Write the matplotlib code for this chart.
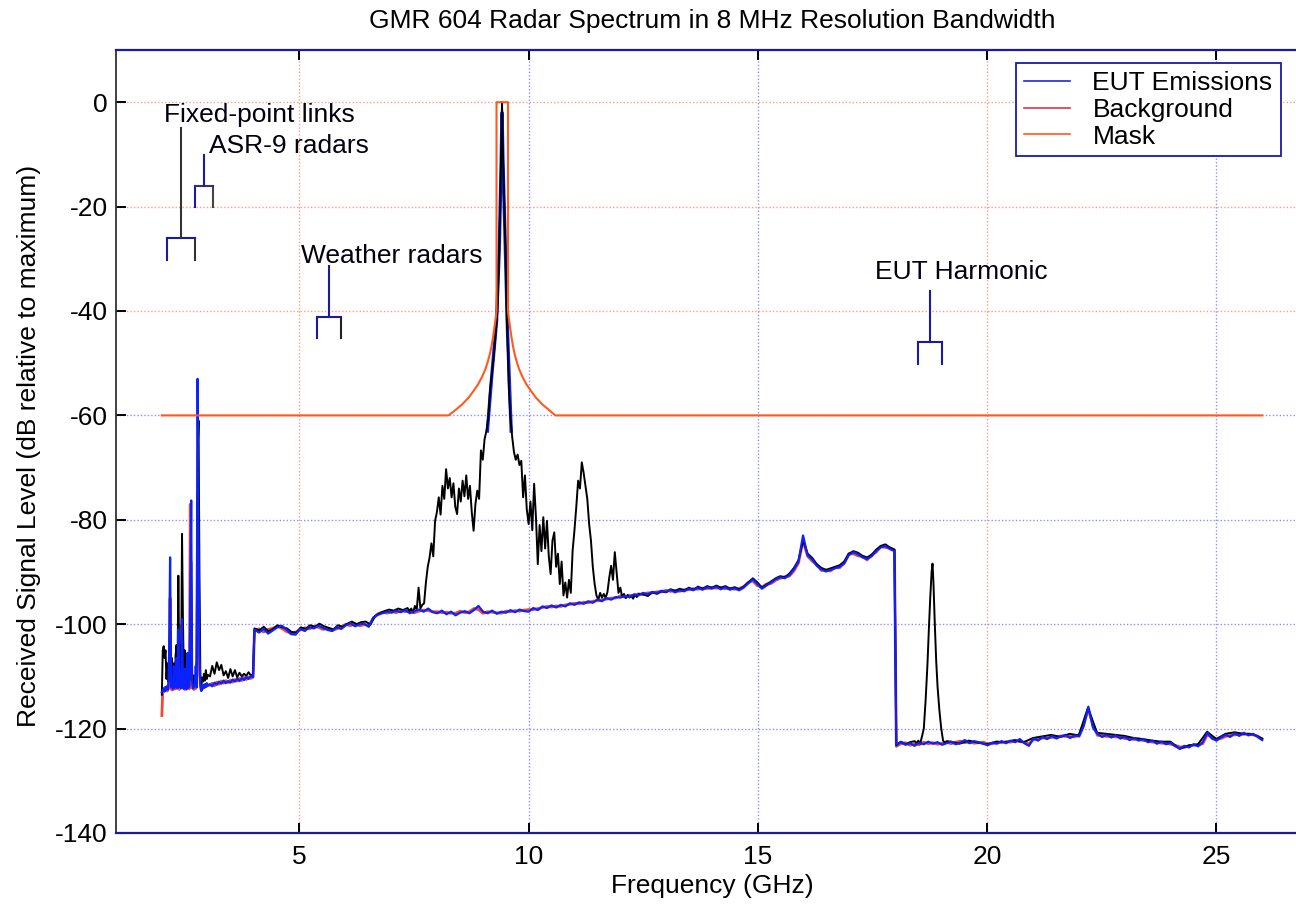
import numpy as np
import matplotlib
matplotlib.use("Agg")
import matplotlib.pyplot as plt
from matplotlib.lines import Line2D

plt.rcParams['font.family'] = ['Liberation Sans', 'DejaVu Sans']

# ---------------- data (dB relative to maximum) ----------------
# EUT emissions (blue)
eut_lo_db = [-113.0, -112.8, -112.3, -112.9, -112.0, -112.6, -111.8, -112.5, -105.0, -87.2,
             -112.0, -111.5, -112.4, -108.0, -112.2, -111.9, -106.5, -112.3, -101.0, -112.0,
             -110.5, -112.3, -99.0, -111.5, -112.4, -108.5, -112.0, -112.5, -105.5, -112.2,
             -111.8, -96.0, -76.3, -111.0, -112.3, -112.0, -111.6, -108.0, -112.1, -53.0,
             -83.0, -106.0, -111.5, -112.8, -112.4, -111.6, -112.2, -111.5, -112.0, -111.3,
             -111.8]
eut_b_db = [-111.5, -111.9, -111.2, -111.6, -111.0, -111.4, -110.8, -111.3, -110.9, -111.2,
            -110.6, -111.0, -110.4, -110.9, -110.3, -110.7, -110.1, -110.5, -109.9, -110.2]
eut_mid_db = [
    -101.0, -101.6, -100.9, -101.8, -101.2, -100.6, -100.3, -101.0, -101.9, -102.0,
    -100.9, -101.3, -100.6, -100.8, -100.3, -100.7, -101.1, -101.3, -100.6, -100.9,
    -100.2, -99.8, -100.4, -100.0, -99.9, -100.5, -98.7, -98.2, -97.9, -97.6,
    -97.8, -97.4, -97.7, -97.3, -97.9, -97.5, -97.2, -97.6, -97.0, -97.7,
    -97.9, -97.4, -98.1, -97.6, -98.3, -97.8, -97.5, -97.9, -97.3, -96.5,
    -97.6, -97.9, -97.4, -98.0, -97.6, -97.8, -97.3, -97.7, -97.2, -97.5,
    -97.6, -96.9, -97.3, -96.6, -96.9, -96.4, -96.8, -96.3, -96.6, -96.0,
    -96.3, -95.8, -96.1, -95.6, -95.9, -95.3, -95.6, -95.0, -95.3, -94.8,
    -94.9, -94.6, -94.8, -94.3, -94.5, -94.0, -94.3, -93.8, -94.0, -93.6,
    -93.8, -93.4, -93.9, -93.5, -93.7, -93.2, -93.5, -93.0, -93.4, -92.9,
    -93.2, -92.8, -93.3, -92.9, -93.4, -93.1, -93.5, -93.0, -92.2, -91.4,
    -92.3, -93.2, -92.6, -92.0, -91.4, -91.0, -91.2, -90.6, -89.5, -88.0,
    -83.0, -86.8, -87.6, -88.8, -89.5, -89.9, -89.6, -89.3, -89.0, -88.4,
    -86.8, -86.2, -86.6, -87.2, -87.5, -87.0, -86.0, -85.3, -85.0, -85.6,
    -86.0]
eut_hi_db = [
    -123.0, -122.6, -123.1, -122.8, -123.3, -122.7, -123.0, -122.5, -122.9, -122.6,
    -123.1, -122.8, -122.5, -123.0, -122.7, -122.2, -122.8, -122.4, -122.6, -122.9,
    -123.2, -122.7, -122.9, -122.4, -122.8, -122.3, -122.6, -122.0, -122.8, -123.3,
    -121.9, -122.3, -121.6, -122.0, -121.4, -121.9, -121.5, -121.2, -121.8, -121.3,
    -121.5, -119.5, -115.8, -119.8, -121.0, -121.6, -121.2, -121.7, -121.3, -121.9,
    -121.6, -122.2, -121.8, -122.3, -122.0, -122.6, -122.3, -122.9, -122.5, -123.0,
    -122.7, -123.4, -123.8, -123.3, -123.6, -123.0, -123.4, -122.6, -120.8, -121.9,
    -122.3, -121.7, -121.2, -121.6, -120.9, -121.4, -120.8, -121.3, -121.0, -121.6,
    -122.2]
eut_peak_f = [9.10, 9.20, 9.30, 9.36, 9.40, 9.42, 9.44, 9.48, 9.54, 9.62]
eut_peak_db = [-63.0, -52.0, -42.0, -28.0, -12.0, -2.0, -11.0, -24.0, -44.0, -63.0]

# Background (red)
bg_lo_db = [-117.5, -112.6, -112.9, -112.2, -112.7, -112.1, -112.8, -112.0, -111.0, -95.0,
            -112.3, -112.6, -111.9, -112.5, -111.8, -112.4, -110.0, -112.1, -108.0, -112.5,
            -112.0, -111.6, -100.0, -112.2, -111.8, -112.5, -111.9, -112.3, -109.0, -111.7,
            -112.4, -77.0, -108.0, -112.2, -111.7, -112.5, -111.9, -112.3, -110.0, -75.0,
            -93.0, -108.5, -112.0, -112.6, -111.9, -112.3, -111.7, -112.1, -111.5, -111.9,
            -111.6]
bg_b_db = [-111.7, -111.3, -111.8, -111.1, -111.5, -110.9, -111.3, -110.8, -111.2, -110.7,
           -111.1, -110.6, -110.9, -110.4, -110.8, -110.2, -110.6, -110.1, -110.4, -110.0]
bg_mid_db = [
    -101.3, -100.9, -101.5, -101.0, -100.8, -100.4, -100.8, -101.4, -101.7, -101.5,
    -101.1, -100.7, -100.9, -100.4, -100.6, -101.0, -100.8, -101.2, -100.9, -100.5,
    -100.0, -100.3, -99.9, -100.3, -100.1, -100.2, -98.9, -98.0, -97.7, -97.9,
    -97.5, -97.8, -97.3, -97.6, -97.4, -97.8, -97.5, -97.3, -97.4, -97.6,
    -97.6, -97.8, -97.7, -97.9, -97.9, -97.5, -97.8, -97.6, -97.0, -97.2,
    -97.9, -97.6, -97.7, -97.8, -97.9, -97.5, -97.6, -97.4, -97.5, -97.3,
    -97.2, -97.2, -97.0, -96.8, -96.6, -96.7, -96.5, -96.6, -96.3, -96.2,
    -96.0, -96.1, -95.8, -95.9, -95.6, -95.5, -95.3, -95.2, -95.0, -95.0,
    -94.6, -94.8, -94.5, -94.5, -94.2, -94.3, -94.0, -94.0, -93.8, -93.8,
    -93.5, -93.7, -93.6, -93.7, -93.4, -93.4, -93.2, -93.3, -93.1, -93.2,
    -93.0, -93.1, -93.0, -93.2, -93.1, -93.3, -93.2, -92.8, -92.0, -91.7,
    -92.6, -92.9, -92.3, -92.2, -91.6, -91.2, -90.9, -90.8, -89.8, -88.3,
    -84.0, -87.0, -87.9, -88.6, -89.7, -89.6, -89.8, -89.1, -89.2, -88.2,
    -86.5, -86.5, -86.9, -87.0, -87.7, -86.7, -86.2, -85.1, -85.3, -85.4,
    -85.8]
bg_hi_db = [
    -123.4, -122.9, -122.7, -123.2, -122.9, -123.1, -122.6, -122.9, -122.7, -123.0,
    -122.8, -122.6, -122.9, -122.6, -122.4, -122.7, -122.5, -122.8, -122.7, -122.6,
    -122.9, -122.9, -122.6, -122.7, -122.5, -122.6, -122.3, -122.5, -122.6, -122.9,
    -122.1, -122.0, -121.8, -121.8, -121.7, -121.6, -121.4, -121.5, -121.5, -121.6,
    -121.2, -119.0, -116.3, -119.3, -121.3, -121.3, -121.5, -121.4, -121.6, -121.6,
    -121.9, -121.9, -122.1, -122.0, -122.3, -122.3, -122.6, -122.6, -122.8, -122.8,
    -123.0, -123.2, -123.5, -123.6, -123.3, -123.2, -123.1, -122.9, -121.2, -121.6,
    -122.0, -121.9, -121.5, -121.3, -121.2, -121.1, -121.1, -121.0, -121.2, -121.4,
    -122.0]

# Radar spectrum trace (black)
black_lo_db = [-113.5, -105.0, -104.2, -106.5, -105.0, -110.5, -107.5, -111.0, -108.0, -100.0,
               -109.0, -106.5, -110.5, -107.5, -111.0, -106.0, -104.0, -110.0, -90.7, -108.0,
               -104.0, -109.5, -82.7, -99.0, -110.0, -105.0, -111.0, -108.5, -110.5, -106.5,
               -110.8, -105.0, -88.0, -110.0, -111.5, -109.8, -111.2, -110.0, -107.0, -68.0,
               -61.0, -90.0, -110.0, -111.5, -110.2, -111.0, -109.5, -110.8, -108.8, -110.5,
               -109.7]
black_b_db = [-110.0, -108.0, -109.5, -107.3, -108.8, -107.8, -109.8, -109.0, -110.3, -108.6,
              -110.0, -108.8, -110.2, -109.3, -110.0, -109.5, -109.9, -109.2, -109.8, -109.6]
black_c1_db = [-100.8, -101.2, -100.5, -101.4, -100.9, -100.2, -100.6, -100.8, -101.5, -101.6,
               -100.6, -100.9, -100.2, -100.5, -99.9, -100.4, -100.7, -101.0, -100.2, -100.5,
               -99.9, -99.5, -100.0, -99.6, -99.5, -100.1, -98.4, -97.9, -97.5, -97.2,
               -97.4, -97.0, -97.3, -96.9]
hump_left_db = [-97.5, -97.0, -97.8, -96.5, -97.2, -93.0, -97.0, -96.3, -96.0, -92.0,
                -89.0, -87.2, -84.5, -87.0, -80.2, -78.5, -75.7, -79.0, -73.5, -76.0,
                -70.3, -74.0, -72.0, -75.7, -73.0, -77.5, -78.9, -74.0, -76.5, -72.5,
                -75.5, -71.5, -76.0, -73.5, -78.5, -82.1, -77.0, -74.4, -76.0, -66.7,
                -68.5, -64.5, -63.0]
main_peak_f = [9.12, 9.16, 9.20, 9.24, 9.28, 9.32, 9.35, 9.38, 9.40, 9.42,
               9.44, 9.47, 9.50, 9.52, 9.55, 9.57, 9.60]
main_peak_db = [-60.5, -55.0, -52.0, -48.5, -44.5, -40.0, -31.0, -20.0, -10.0, 0.0,
                -10.0, -20.0, -30.0, -40.0, -48.0, -55.0, -60.0]
hump_right_db = [-64.0, -67.0, -68.5, -67.5, -69.5, -68.7, -75.7, -71.5, -78.0, -80.8,
                 -76.5, -82.0, -73.1, -79.5, -88.5, -81.0, -86.0, -79.5, -85.5, -80.2,
                 -87.0, -90.4, -84.0, -82.4, -89.0, -86.5, -92.3, -88.0, -94.5, -92.0,
                 -94.9, -91.5, -94.0, -85.9, -82.0, -77.5, -72.5, -74.0, -69.0, -71.0,
                 -73.5, -76.0, -80.8, -84.0, -89.0, -92.3, -94.5, -95.3, -94.0, -94.9,
                 -94.2, -95.0, -93.8, -91.0, -88.8, -91.5, -86.2, -90.0, -94.0, -93.0,
                 -94.8, -94.2, -95.0, -94.4, -94.9, -94.6, -95.1, -94.3, -94.8, -94.2]
black_c2_db = [-94.3, -94.6, -93.9, -94.2, -93.7,
               -93.9, -93.3, -93.6, -93.2, -93.5, -93.0, -93.4, -92.8, -93.2, -92.7,
               -93.0, -92.6, -93.0, -92.7, -93.2, -92.9, -93.3, -92.8, -92.0, -91.2,
               -92.0, -93.0, -92.4, -91.8, -91.2, -90.8, -91.0, -90.3, -89.2, -87.7,
               -84.0, -86.5, -87.3, -88.5, -89.2, -89.6, -89.3, -89.0, -88.7, -88.0,
               -86.5, -86.0, -86.3, -86.9, -87.2, -86.7, -85.7, -85.0, -84.7, -85.3,
               -85.7]
black_d1_db = [-123.2, -122.5, -123.0, -122.6, -122.4]
harmonic_f = [18.46, 18.50, 18.54, 18.58, 18.62, 18.66, 18.70, 18.73, 18.76, 18.79,
              18.81, 18.83, 18.86, 18.89, 18.92, 18.96, 19.00, 19.04, 19.08, 19.12]
harmonic_db = [-122.8, -122.3, -122.9, -121.5, -120.0, -114.5, -107.6, -101.0, -95.0, -90.0,
               -88.4, -92.0, -100.0, -107.0, -112.0, -116.5, -120.0, -122.3, -122.7, -122.4]
black_d2_db = [-122.5, -122.9, -122.3, -122.7, -123.0, -122.5, -122.6, -122.2, -122.6, -121.8,
               -121.5, -121.2, -121.6, -121.0, -121.3, -116.0, -120.8, -121.0, -121.2, -121.4,
               -121.8, -122.0, -122.3, -122.5, -122.5, -123.9, -123.2, -123.0, -120.6, -122.0,
               -121.0, -120.7, -121.0, -121.1, -121.9]

# Mask
mask_f = [2.0, 8.25, 8.40, 8.55, 8.70, 8.80, 8.90, 8.98, 9.05, 9.10, 9.15, 9.19, 9.22,
          9.25, 9.28, 9.30, 9.30, 9.55, 9.55, 9.57, 9.60, 9.63, 9.66, 9.70, 9.75, 9.80,
          9.87, 9.95, 10.05, 10.15, 10.30, 10.45, 10.58, 26.0]
mask_db = [-60, -60, -59.0, -57.9, -56.5, -55.3, -54.0, -52.7, -51.3, -50.0, -48.4, -46.8,
           -45.2, -43.4, -41.5, -40, 0, 0, -40, -41.5, -43.4, -45.2, -46.8, -48.4, -50.0,
           -51.3, -52.7, -54.0, -55.3, -56.5, -57.9, -59.0, -60, -60]

x_ticks = [5, 10, 15, 20, 25]
y_ticks = [-140, -120, -100, -80, -60, -40, -20, 0]


def seg(f0, f1, vals):
    return np.linspace(f0, f1, len(vals)), np.asarray(vals, float)


def join(*parts):
    fs = np.concatenate([p[0] for p in parts])
    vs = np.concatenate([p[1] for p in parts])
    return fs, vs


eut_f, eut_db = join(seg(2.0, 3.0, eut_lo_db), seg(3.05, 3.99, eut_b_db),
                     seg(4.02, 17.98, eut_mid_db), seg(18.02, 26.0, eut_hi_db))
bg_f, bg_db = join(seg(2.0, 3.0, bg_lo_db), seg(3.05, 3.99, bg_b_db),
                   seg(4.02, 17.98, bg_mid_db), seg(18.02, 26.0, bg_hi_db))
blk_f, blk_db = join(seg(2.0, 3.0, black_lo_db), seg(3.05, 3.99, black_b_db),
                     seg(4.02, 7.36, black_c1_db), seg(7.40, 9.08, hump_left_db),
                     (np.array(main_peak_f), np.array(main_peak_db, float)),
                     seg(9.64, 12.40, hump_right_db), seg(12.50, 17.98, black_c2_db),
                     seg(18.02, 18.42, black_d1_db),
                     (np.array(harmonic_f), np.array(harmonic_db, float)),
                     seg(19.2, 26.0, black_d2_db))

# ---------------- figure ----------------
W, H = 1296, 907
FS = 19
fig = plt.figure(figsize=(W / 100, H / 100), dpi=100)
ax = fig.add_axes([116 / W, 1 - 833 / H, (1308 - 116) / W, (833 - 50) / H])
ax.set_xlim(1, 27)
ax.set_ylim(-140, 10)

C_BLUE = '#0a22ff'
C_BG = '#ec4a36'
C_MASK = '#ff5a1e'
NAVY = '#1a1aa6'
GRID_OR = '#ff9c84'
GRID_BL = '#8e8eff'
DOT = (0, (1, 1.5))

for v in x_ticks:
    ax.axvline(v, color=GRID_OR if v in (5, 20) else GRID_BL, ls=DOT, lw=1.0, zorder=0.5)
for v in y_ticks[1:]:
    ax.axhline(v, color=GRID_OR if v >= -40 else GRID_BL, ls=DOT, lw=1.0, zorder=0.5)

ax.plot(bg_f, bg_db, color=C_BG, lw=2.0, zorder=2)
ax.plot(eut_peak_f, eut_peak_db, color=C_BLUE, lw=2.4, zorder=2.5)
ax.plot(blk_f, blk_db, color='black', lw=1.4, zorder=3)
ax.plot(eut_f, eut_db, color=C_BLUE, lw=1.6, zorder=4)
ax.plot(mask_f, mask_db, color=C_MASK, lw=1.5, zorder=5)

# annotation brackets
def bracket(x0, x1, xs, ybot, ybar, ytop, cols):
    c_left, c_bar, c_right, c_stem = cols
    ax.plot([x0, x0], [ybot, ybar], color=c_left, lw=1.5, zorder=6)
    ax.plot([x1, x1], [ybot, ybar], color=c_right, lw=1.5, zorder=6)
    ax.plot([x0, x1], [ybar, ybar], color=c_bar, lw=1.5, zorder=6)
    ax.plot([xs, xs], [ybar, ytop], color=c_stem, lw=1.5, zorder=6)

bracket(2.12, 2.72, 2.42, -30.2, -26.1, -5.0, (NAVY, NAVY, '#333333', '#333333'))
bracket(2.72, 3.12, 2.93, -20.1, -16.0, -10.2, (NAVY, '#333366', '#444444', NAVY))
bracket(5.38, 5.90, 5.65, -45.1, -41.2, -31.3, (NAVY, NAVY, '#222222', NAVY))
bracket(18.50, 19.02, 18.76, -50.2, -46.0, -36.2, (NAVY, NAVY, NAVY, NAVY))

TXT = '#000010'
ax.text(2.04, -3.8, 'Fixed-point links', fontsize=FS, color=TXT, ha='left', va='baseline', zorder=7)
ax.text(3.03, -9.8, 'ASR-9 radars', fontsize=FS, color=TXT, ha='left', va='baseline', zorder=7)
ax.text(5.03, -30.8, 'Weather radars', fontsize=FS, color=TXT, ha='left', va='baseline', zorder=7)
ax.text(17.55, -33.8, 'EUT Harmonic', fontsize=FS, color=TXT, ha='left', va='baseline', zorder=7)

# axes styling
ax.set_xticks(x_ticks)
ax.set_yticks(y_ticks)
ax.set_xticklabels([str(v) for v in x_ticks])
ax.set_yticklabels([str(v) for v in y_ticks])
ax.tick_params(direction='in', length=7, width=1.4, top=True, right=True,
               labelsize=FS, labelcolor='black')
ax.tick_params(axis='x', pad=9)
ax.tick_params(axis='y', pad=6)
for t, v in zip(ax.xaxis.get_major_ticks(), x_ticks):
    c = '#505050' if v in (5, 20) else NAVY
    t.tick1line.set_color(c)
    t.tick2line.set_color(c)
for t, v in zip(ax.yaxis.get_major_ticks(), y_ticks):
    c = '#404040' if v >= -40 else NAVY
    t.tick1line.set_color(c)
    t.tick2line.set_color(c)

for s in ('top', 'bottom', 'right'):
    ax.spines[s].set_color(NAVY)
    ax.spines[s].set_linewidth(1.6)
ax.spines['left'].set_color('#333333')
ax.spines['left'].set_linewidth(1.3)

ax.set_xlabel('Frequency (GHz)', fontsize=FS, color='black')
ax.xaxis.set_label_coords(0.5, -0.052)
ax.set_ylabel('Received Signal Level (dB relative to maximum)', fontsize=FS, color='black')
ax.yaxis.set_label_coords(-0.063, 0.494)

fig.text(712 / W, 1 - 21 / H, 'GMR 604 Radar Spectrum in 8 MHz Resolution Bandwidth',
         fontsize=FS, ha='center', va='center', color='black')

handles = [Line2D([], [], color='#1c2ad0', lw=1.2),
           Line2D([], [], color='#c8404c', lw=1.2),
           Line2D([], [], color=C_MASK, lw=1.2)]
leg = ax.legend(handles, ['EUT Emissions', 'Background', 'Mask'], loc='upper left',
                bbox_to_anchor=(0.755, 0.983), fontsize=FS, frameon=True, fancybox=False,
                framealpha=1, edgecolor=NAVY, handlelength=1.75, handletextpad=0.85,
                labelspacing=0.1, borderpad=0.3, borderaxespad=0)
leg.get_frame().set_linewidth(1.3)
leg.set_zorder(10)

fig.savefig('out.png', dpi=100)
